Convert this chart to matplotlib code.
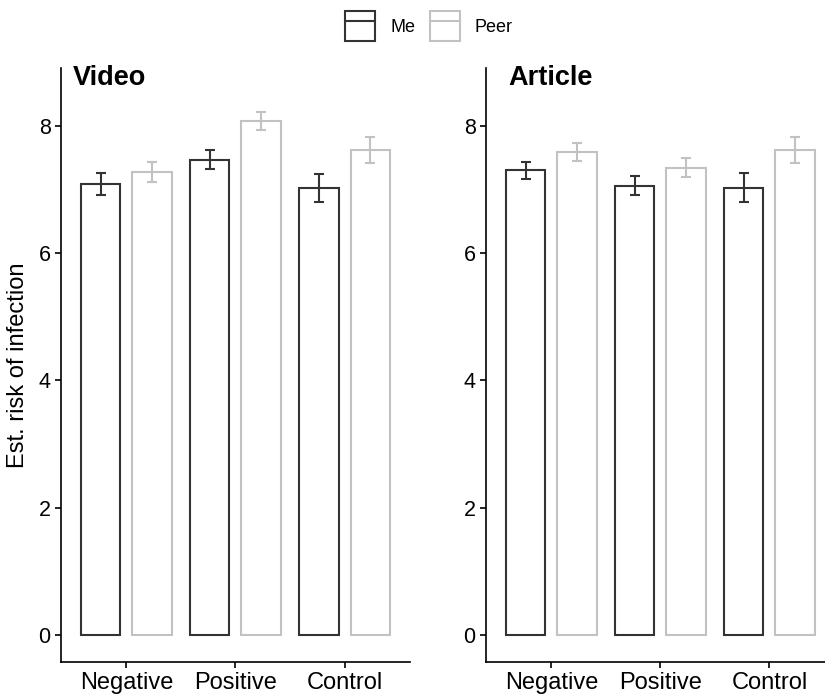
import numpy as np
import matplotlib.pyplot as plt
from matplotlib.patches import Patch
from matplotlib.lines import Line2D

plt.rcParams["font.family"] = ["Liberation Sans", "DejaVu Sans"]

conditions = ["Negative", "Positive", "Control"]
groups = ["Me", "Peer"]

# mean estimated risk and standard error per condition
video_me = [7.09, 7.47, 7.03]
video_me_se = [0.17, 0.15, 0.22]
video_peer = [7.28, 8.08, 7.62]
video_peer_se = [0.16, 0.14, 0.20]

article_me = [7.30, 7.06, 7.03]
article_me_se = [0.14, 0.15, 0.23]
article_peer = [7.59, 7.34, 7.62]
article_peer_se = [0.14, 0.15, 0.20]

colors = {"Me": "#333333", "Peer": "#c2c2c2"}
offsets = {"Me": -0.235, "Peer": 0.235}
bar_width = 0.36

fig = plt.figure(figsize=(8.25, 6.95), dpi=100)
ax_video = fig.add_axes([0.0739, 0.0475, 0.423, 0.8547])
ax_article = fig.add_axes([0.589, 0.0475, 0.423, 0.8547])


def draw_panel(ax, me, me_se, peer, peer_se, title, title_x):
    x = np.arange(1, len(conditions) + 1)
    for grp, vals, errs in [("Me", me, me_se), ("Peer", peer, peer_se)]:
        xs = x + offsets[grp]
        ax.bar(xs, vals, width=bar_width, facecolor="white",
               edgecolor=colors[grp], linewidth=1.5, zorder=2)
        ax.errorbar(xs, vals, yerr=errs, fmt="none", ecolor=colors[grp],
                    elinewidth=1.5, capsize=3.5, capthick=1.5, zorder=3)
    ax.set_xlim(0.4, 3.6)
    ax.set_ylim(-0.424, 8.91)
    ax.set_xticks(x)
    ax.set_xticklabels(conditions)
    ax.set_yticks([0, 2, 4, 6, 8])
    for side in ["top", "right"]:
        ax.spines[side].set_visible(False)
    for side in ["left", "bottom"]:
        ax.spines[side].set_linewidth(1.2)
    ax.tick_params(axis="both", length=4.5, width=1.2, pad=3, colors="black")
    ax.tick_params(axis="x", labelsize=17)
    ax.tick_params(axis="y", labelsize=15.5)
    ax.text(title_x, 0.971, title, transform=ax.transAxes, fontsize=19.5,
            fontweight="bold", ha="left", va="baseline")


draw_panel(ax_video, video_me, video_me_se, video_peer, video_peer_se,
           "Video", 0.034)
draw_panel(ax_article, article_me, article_me_se, article_peer,
           article_peer_se, "Article", 0.063)
ax_video.set_ylabel("Est. risk of infection", fontsize=17, labelpad=7)

# legend keys: outlined box with a line through the middle
handles = [
    (Patch(facecolor="white", edgecolor=colors[g], linewidth=1.5),
     Line2D([], [], color=colors[g], linewidth=1.5))
    for g in groups
]
fig.legend(handles, groups, loc="center", bbox_to_anchor=(0.52, 0.9626),
           ncol=2, frameon=False, fontsize=13, handlelength=1.66,
           handleheight=2.26, handletextpad=0.83, columnspacing=0.83)

fig.savefig("out.png", dpi=100)
